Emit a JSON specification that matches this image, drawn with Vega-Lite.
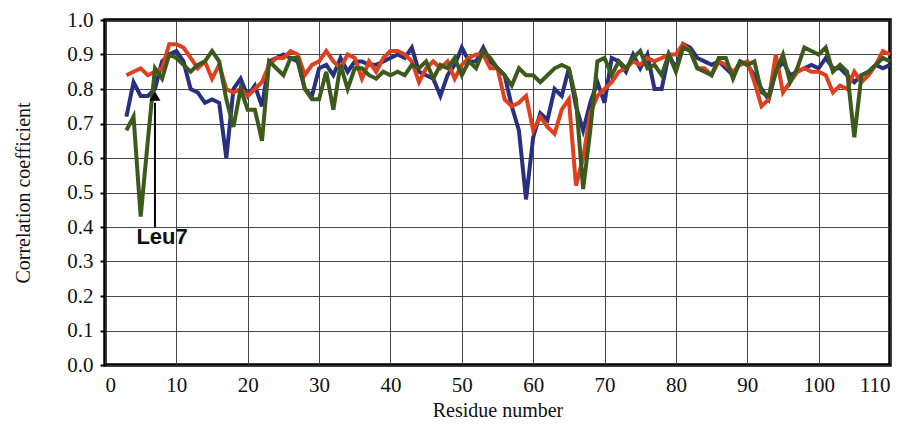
{
  "$schema": "https://vega.github.io/schema/vega-lite/v6.json",
  "width": 785,
  "height": 345,
  "autosize": "none",
  "padding": {"left": 105, "top": 20, "right": 14, "bottom": 69},
  "background": "white",
  "config": {
    "view": {"stroke": "black", "strokeWidth": 3.5},
    "axis": {
      "labelFont": "Liberation Serif",
      "titleFont": "Liberation Serif",
      "labelFontSize": 21,
      "titleFontSize": 20,
      "titleFontWeight": "normal",
      "labelColor": "#111",
      "titleColor": "#111",
      "labelOverlap": false,
      "gridColor": "#333",
      "gridWidth": 1,
      "gridOpacity": 0.9,
      "domain": false,
      "tickColor": "black",
      "tickWidth": 2
    }
  },
  "datasets": {
    "cc": [
      {"res": 3, "b": 0.72, "r": 0.84, "g": 0.68},
      {"res": 4, "b": 0.82, "r": 0.85, "g": 0.72},
      {"res": 5, "b": 0.78, "r": 0.86, "g": 0.43},
      {"res": 6, "b": 0.78, "r": 0.84, "g": 0.65},
      {"res": 7, "b": 0.80, "r": 0.85, "g": 0.86},
      {"res": 8, "b": 0.88, "r": 0.86, "g": 0.83},
      {"res": 9, "b": 0.90, "r": 0.93, "g": 0.90},
      {"res": 10, "b": 0.91, "r": 0.93, "g": 0.89},
      {"res": 11, "b": 0.88, "r": 0.92, "g": 0.87},
      {"res": 12, "b": 0.80, "r": 0.89, "g": 0.85},
      {"res": 13, "b": 0.79, "r": 0.86, "g": 0.87},
      {"res": 14, "b": 0.76, "r": 0.88, "g": 0.88},
      {"res": 15, "b": 0.77, "r": 0.83, "g": 0.91},
      {"res": 16, "b": 0.76, "r": 0.87, "g": 0.88},
      {"res": 17, "b": 0.60, "r": 0.80, "g": 0.77},
      {"res": 18, "b": 0.80, "r": 0.79, "g": 0.69},
      {"res": 19, "b": 0.83, "r": 0.80, "g": 0.80},
      {"res": 20, "b": 0.78, "r": 0.78, "g": 0.74},
      {"res": 21, "b": 0.81, "r": 0.80, "g": 0.74},
      {"res": 22, "b": 0.75, "r": 0.82, "g": 0.65},
      {"res": 23, "b": 0.88, "r": 0.87, "g": 0.88},
      {"res": 24, "b": 0.89, "r": 0.89, "g": 0.86},
      {"res": 25, "b": 0.90, "r": 0.89, "g": 0.84},
      {"res": 26, "b": 0.89, "r": 0.91, "g": 0.89},
      {"res": 27, "b": 0.88, "r": 0.90, "g": 0.89},
      {"res": 28, "b": 0.80, "r": 0.84, "g": 0.80},
      {"res": 29, "b": 0.78, "r": 0.87, "g": 0.77},
      {"res": 30, "b": 0.86, "r": 0.88, "g": 0.77},
      {"res": 31, "b": 0.87, "r": 0.91, "g": 0.85},
      {"res": 32, "b": 0.84, "r": 0.88, "g": 0.74},
      {"res": 33, "b": 0.89, "r": 0.86, "g": 0.87},
      {"res": 34, "b": 0.85, "r": 0.90, "g": 0.80},
      {"res": 35, "b": 0.88, "r": 0.89, "g": 0.86},
      {"res": 36, "b": 0.88, "r": 0.83, "g": 0.86},
      {"res": 37, "b": 0.87, "r": 0.88, "g": 0.84},
      {"res": 38, "b": 0.87, "r": 0.85, "g": 0.83},
      {"res": 39, "b": 0.88, "r": 0.89, "g": 0.85},
      {"res": 40, "b": 0.89, "r": 0.91, "g": 0.84},
      {"res": 41, "b": 0.90, "r": 0.91, "g": 0.85},
      {"res": 42, "b": 0.89, "r": 0.90, "g": 0.84},
      {"res": 43, "b": 0.92, "r": 0.88, "g": 0.87},
      {"res": 44, "b": 0.85, "r": 0.82, "g": 0.86},
      {"res": 45, "b": 0.84, "r": 0.86, "g": 0.88},
      {"res": 46, "b": 0.83, "r": 0.88, "g": 0.83},
      {"res": 47, "b": 0.78, "r": 0.86, "g": 0.87},
      {"res": 48, "b": 0.84, "r": 0.88, "g": 0.86},
      {"res": 49, "b": 0.87, "r": 0.83, "g": 0.89},
      {"res": 50, "b": 0.92, "r": 0.87, "g": 0.84},
      {"res": 51, "b": 0.88, "r": 0.89, "g": 0.88},
      {"res": 52, "b": 0.88, "r": 0.90, "g": 0.86},
      {"res": 53, "b": 0.92, "r": 0.90, "g": 0.91},
      {"res": 54, "b": 0.88, "r": 0.86, "g": 0.89},
      {"res": 55, "b": 0.86, "r": 0.86, "g": 0.86},
      {"res": 56, "b": 0.84, "r": 0.77, "g": 0.84},
      {"res": 57, "b": 0.75, "r": 0.75, "g": 0.81},
      {"res": 58, "b": 0.68, "r": 0.76, "g": 0.86},
      {"res": 59, "b": 0.48, "r": 0.78, "g": 0.84},
      {"res": 60, "b": 0.66, "r": 0.68, "g": 0.84},
      {"res": 61, "b": 0.73, "r": 0.72, "g": 0.82},
      {"res": 62, "b": 0.71, "r": 0.69, "g": 0.84},
      {"res": 63, "b": 0.80, "r": 0.67, "g": 0.86},
      {"res": 64, "b": 0.78, "r": 0.74, "g": 0.87},
      {"res": 65, "b": 0.86, "r": 0.77, "g": 0.86},
      {"res": 66, "b": 0.75, "r": 0.52, "g": 0.77},
      {"res": 67, "b": 0.68, "r": 0.60, "g": 0.51},
      {"res": 68, "b": 0.76, "r": 0.73, "g": 0.68},
      {"res": 69, "b": 0.82, "r": 0.78, "g": 0.88},
      {"res": 70, "b": 0.76, "r": 0.80, "g": 0.89},
      {"res": 71, "b": 0.89, "r": 0.82, "g": 0.84},
      {"res": 72, "b": 0.88, "r": 0.85, "g": 0.88},
      {"res": 73, "b": 0.85, "r": 0.86, "g": 0.86},
      {"res": 74, "b": 0.90, "r": 0.88, "g": 0.89},
      {"res": 75, "b": 0.86, "r": 0.87, "g": 0.91},
      {"res": 76, "b": 0.90, "r": 0.89, "g": 0.86},
      {"res": 77, "b": 0.80, "r": 0.88, "g": 0.87},
      {"res": 78, "b": 0.80, "r": 0.89, "g": 0.84},
      {"res": 79, "b": 0.90, "r": 0.90, "g": 0.90},
      {"res": 80, "b": 0.86, "r": 0.90, "g": 0.85},
      {"res": 81, "b": 0.93, "r": 0.93, "g": 0.92},
      {"res": 82, "b": 0.92, "r": 0.91, "g": 0.91},
      {"res": 83, "b": 0.89, "r": 0.86, "g": 0.86},
      {"res": 84, "b": 0.88, "r": 0.86, "g": 0.85},
      {"res": 85, "b": 0.87, "r": 0.84, "g": 0.84},
      {"res": 86, "b": 0.88, "r": 0.88, "g": 0.89},
      {"res": 87, "b": 0.86, "r": 0.87, "g": 0.89},
      {"res": 88, "b": 0.84, "r": 0.85, "g": 0.83},
      {"res": 89, "b": 0.88, "r": 0.87, "g": 0.88},
      {"res": 90, "b": 0.87, "r": 0.88, "g": 0.87},
      {"res": 91, "b": 0.84, "r": 0.82, "g": 0.88},
      {"res": 92, "b": 0.80, "r": 0.75, "g": 0.79},
      {"res": 93, "b": 0.77, "r": 0.77, "g": 0.78},
      {"res": 94, "b": 0.85, "r": 0.90, "g": 0.85},
      {"res": 95, "b": 0.88, "r": 0.79, "g": 0.90},
      {"res": 96, "b": 0.84, "r": 0.82, "g": 0.82},
      {"res": 97, "b": 0.85, "r": 0.85, "g": 0.86},
      {"res": 98, "b": 0.86, "r": 0.86, "g": 0.92},
      {"res": 99, "b": 0.87, "r": 0.85, "g": 0.91},
      {"res": 100, "b": 0.86, "r": 0.85, "g": 0.90},
      {"res": 101, "b": 0.89, "r": 0.84, "g": 0.92},
      {"res": 102, "b": 0.86, "r": 0.79, "g": 0.85},
      {"res": 103, "b": 0.86, "r": 0.81, "g": 0.87},
      {"res": 104, "b": 0.84, "r": 0.80, "g": 0.85},
      {"res": 105, "b": 0.82, "r": 0.85, "g": 0.66},
      {"res": 106, "b": 0.84, "r": 0.82, "g": 0.84},
      {"res": 107, "b": 0.85, "r": 0.84, "g": 0.85},
      {"res": 108, "b": 0.87, "r": 0.87, "g": 0.87},
      {"res": 109, "b": 0.86, "r": 0.91, "g": 0.89},
      {"res": 110, "b": 0.87, "r": 0.90, "g": 0.88}
    ],
    "arrow": [
      {"res": 7, "lo": 0.40, "hi": 0.76, "tip": 0.78, "label": "Leu7", "lx": 8, "ly": 0.37}
    ]
  },
  "layer": [
    {
      "data": {"name": "cc"},
      "transform": [
        {"fold": ["b", "r", "g"], "as": ["series", "value"]}
      ],
      "mark": {"type": "line", "strokeWidth": 4, "strokeJoin": "miter"},
      "encoding": {
        "x": {
          "field": "res", "type": "quantitative",
          "scale": {"domain": [0, 110], "nice": false},
          "axis": {"values": [0,10,20,30,40,50,60,70,80,90,100,110], "title": "Residue number", "tickSize": 0, "labelPadding": 9, "titlePadding": 5}
        },
        "y": {
          "field": "value", "type": "quantitative",
          "scale": {"domain": [0, 1], "nice": false},
          "axis": {"values": [0,0.1,0.2,0.3,0.4,0.5,0.6,0.7,0.8,0.9,1], "labelOverlap": false, "format": ".1f", "title": "Correlation coefficient", "tickSize": 5, "labelPadding": 7, "titlePadding": 33}
        },
        "color": {
          "field": "series", "type": "nominal",
          "scale": {"domain": ["b", "r", "g"], "range": ["#28307f", "#e0401e", "#3b5a1c"]},
          "legend": null
        },
        "order": {"field": "series", "sort": "ascending"}
      }
    },
    {
      "data": {"name": "arrow"},
      "mark": {"type": "rule", "color": "black", "strokeWidth": 2},
      "encoding": {
        "x": {"field": "res", "type": "quantitative",
          "axis": {"values": [0,10,20,30,40,50,60,70,80,90,100,110], "title": "Residue number", "tickSize": 0, "labelPadding": 9, "titlePadding": 5}},
        "y": {"field": "lo", "type": "quantitative",
          "axis": {"values": [0,0.1,0.2,0.3,0.4,0.5,0.6,0.7,0.8,0.9,1], "labelOverlap": false, "format": ".1f", "title": "Correlation coefficient", "tickSize": 5, "labelPadding": 7, "titlePadding": 33}},
        "y2": {"field": "hi"}
      }
    },
    {
      "data": {"name": "arrow"},
      "mark": {"type": "point", "shape": "triangle-up", "filled": true, "color": "black", "size": 120, "opacity": 1},
      "encoding": {
        "x": {"field": "res", "type": "quantitative",
          "axis": {"values": [0,10,20,30,40,50,60,70,80,90,100,110], "title": "Residue number", "tickSize": 0, "labelPadding": 9, "titlePadding": 5}},
        "y": {"field": "tip", "type": "quantitative",
          "axis": {"values": [0,0.1,0.2,0.3,0.4,0.5,0.6,0.7,0.8,0.9,1], "labelOverlap": false, "format": ".1f", "title": "Correlation coefficient", "tickSize": 5, "labelPadding": 7, "titlePadding": 33}}
      }
    },
    {
      "data": {"name": "arrow"},
      "mark": {"type": "text", "font": "Liberation Sans", "fontWeight": "bold", "fontSize": 22, "align": "center", "baseline": "middle", "color": "#111"},
      "encoding": {
        "x": {"field": "lx", "type": "quantitative",
          "axis": {"values": [0,10,20,30,40,50,60,70,80,90,100,110], "title": "Residue number", "tickSize": 0, "labelPadding": 9, "titlePadding": 5}},
        "y": {"field": "ly", "type": "quantitative",
          "axis": {"values": [0,0.1,0.2,0.3,0.4,0.5,0.6,0.7,0.8,0.9,1], "labelOverlap": false, "format": ".1f", "title": "Correlation coefficient", "tickSize": 5, "labelPadding": 7, "titlePadding": 33}},
        "text": {"field": "label"}
      }
    }
  ]
}
